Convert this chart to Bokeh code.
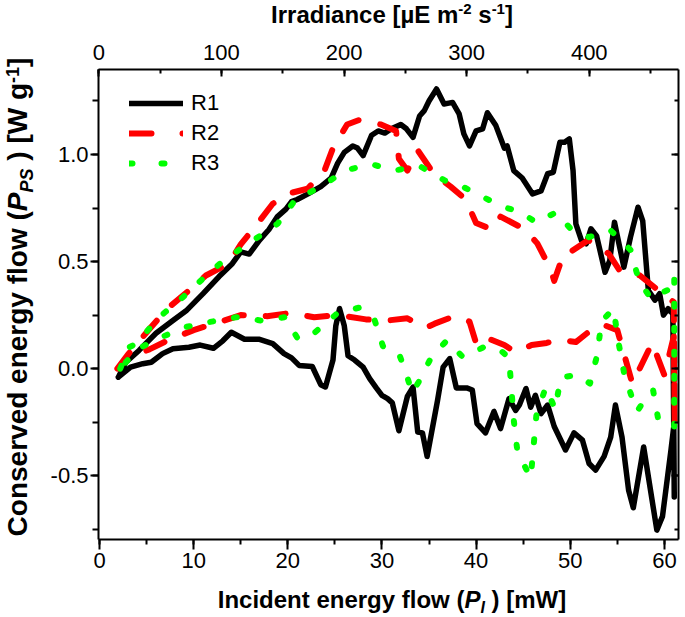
from bokeh.plotting import figure
from bokeh.models import (Range1d, LinearAxis, SingleIntervalTicker, NumeralTickFormatter,
                          CustomJSTickFormatter, Legend, LegendItem, Div)
from bokeh.layouts import row, column
from bokeh.embed import file_html
from bokeh.resources import INLINE

FONT = "Liberation Sans"
NAN = float("nan")

# ---------------- data ----------------
r1_x = [2.0, 2.8, 4.2, 6.0, 7.8, 9.2, 11.0, 12.7, 14.1, 15.0, 15.9, 17.0, 18.0, 18.9, 19.8, 20.4, 21.0,
        22.1, 23.5, 24.6, 25.3, 26.0, 26.9, 27.4, 28.0, 28.9, 29.6, 30.3, 31.0, 32.0, 32.6, 33.3, 34.0,
        34.5, 35.0, 35.8, 36.6, 37.1, 37.5, 38.2, 38.7, 39.3, 40.0, 40.7, 41.2, 42.1, 43.0, 43.3, 44.0,
        44.9, 46.0, 46.9, 47.6, 48.2, 48.9, 49.4, 49.9, 50.3, 50.6, 51.2, 51.7, 52.2, 52.8, 53.7, 54.2,
        54.7, 55.0, 55.7, 56.4, 57.2, 57.7, 58.3, 59.0, 59.5, 59.9, 60.4, 60.9,
        61.05, 61.0, 60.7, 59.8, 59.2, 58.3, 57.8, 56.7, 56.2, 55.5, 54.8, 54.3, 53.6, 52.7, 52.0, 51.3,
        50.4, 49.5, 48.3, 47.6, 46.9, 46.3, 45.8, 45.3, 44.6, 44.2, 43.5, 42.6, 41.9, 41.0, 40.1, 39.6,
        39.0, 37.9, 37.2, 36.5, 35.9, 34.8, 34.3, 33.8, 33.3, 32.7, 31.8, 31.1, 30.6, 30.0, 29.4, 28.7,
        28.0, 27.1, 26.4, 26.0, 25.5, 25.1, 24.8, 24.0, 23.5, 22.6, 21.2, 20.4, 19.6, 18.4, 17.0, 15.4,
        14.0, 13.1, 12.1, 10.7, 9.5, 7.8, 6.7, 5.5, 4.6, 3.3, 2.0]
r1_y = [-0.04, 0.03, 0.085, 0.165, 0.225, 0.27, 0.35, 0.43, 0.49, 0.545, 0.535, 0.60, 0.65, 0.71, 0.745,
        0.78, 0.79, 0.815, 0.85, 0.89, 0.96, 1.01, 1.04, 1.03, 0.995, 1.09, 1.11, 1.10, 1.12, 1.14, 1.12,
        1.08, 1.18, 1.205, 1.25, 1.306, 1.236, 1.24, 1.243, 1.19, 1.096, 1.04, 1.11, 1.12, 1.195, 1.135,
        1.03, 1.04, 0.925, 0.89, 0.816, 0.83, 0.91, 0.917, 1.057, 1.057, 1.073, 0.925, 0.676, 0.598,
        0.583, 0.653, 0.62, 0.45, 0.505, 0.684, 0.62, 0.474, 0.614, 0.754, 0.69, 0.365, 0.32, 0.35, 0.25,
        0.28, 0.256,
        -0.60, -0.27, -0.38, -0.69, -0.754, -0.505, -0.366, -0.65, -0.568, -0.32, -0.17, -0.32, -0.41,
        -0.474, -0.443, -0.334, -0.30, -0.38, -0.27, -0.17, -0.21, -0.125, -0.18, -0.093, -0.17, -0.195,
        -0.14, -0.28, -0.20, -0.30, -0.257, -0.10, -0.09, -0.09, 0.047, 0.007, -0.15, -0.41, -0.30,
        -0.296, -0.086, -0.13, -0.29, -0.16, -0.14, -0.125, -0.09, -0.047, 0.007, 0.04, 0.06, 0.2, 0.28,
        0.2, 0.04, -0.086, -0.075, 0.01, 0.015, 0.05, 0.07, 0.117, 0.137, 0.137, 0.17, 0.13, 0.095, 0.11,
        0.10, 0.093, 0.07, 0.03, 0.023, 0.007, -0.04]

r2_x = [1.9, 3.1, 5.4, 7.2, 9.5, 11.3, 13.7, 15.0, 17.0, 18.4, 20.3, 22.1, 23.9, 24.8, 26.3, 27.5, 29.9,
        31.5, 31.8, 32.7, 33.8, 35.5, 37.3, 38.9, 40.0, 41.7, 42.6, 45.2, 46.5, 47.9, 48.3, 49.3, 50.0,
        51.9, 54.1, 55.3, 57.4, 59.6, 61.0,
        61.1, 61.0, 60.0, 58.7, 56.6, 55.0, 53.5, 52.2, 50.6, 48.8, 47.5, 45.9, 44.2, 43.0, 41.6, 40.1,
        39.3, 37.7, 35.6, 34.6, 32.7, 30.6, 28.3, 25.3, 22.8, 20.3, 17.8, 15.0, 12.9, 10.0, 7.4, 5.3,
        3.0, 1.9]
r2_y = [0.0, 0.07, 0.19, 0.28, 0.365, 0.435, 0.49, 0.58, 0.69, 0.77, 0.82, 0.84, 0.925, 1.03, 1.14,
        1.16, 1.14, 1.11, 0.98, 0.925, 1.02, 0.91, 0.85, 0.79, 0.68, 0.65, 0.71, 0.65, 0.585, 0.466,
        0.41, 0.536, 0.544, 0.60, 0.536, 0.455, 0.435, 0.357, 0.31,
        -0.26, 0.15, -0.03, 0.12, -0.07, 0.18, 0.205, 0.18, 0.124, 0.135, 0.12, 0.11, 0.077, 0.11,
        0.135, 0.105, 0.22, 0.245, 0.21, 0.19, 0.235, 0.225, 0.23, 0.25, 0.24, 0.26, 0.245, 0.25, 0.22,
        0.18, 0.135, 0.09, 0.05, 0.0]

r3_x = [2.2, 3.1, 4.0, 6.2, 8.9, 11.1, 13.4, 15.9, 18.9, 20.8, 23.7, 26.1, 28.8, 31.3, 34.0, 36.7, 38.7,
        40.8, 42.9, 44.6, 46.4, 48.5, 50.1, 52.0, 54.3, 56.4, 57.3, 58.6, 60.0, 61.0, 61.05,
        61.05, 59.4, 58.8, 58.2, 57.1, 56.4, 55.7, 55.1, 54.6, 53.3, 52.9, 52.1, 50.9, 49.0, 48.4, 47.4,
        46.4, 45.8, 44.4, 44.0, 43.5, 42.4, 40.8, 38.6, 36.9, 35.2, 34.0, 33.2, 32.5, 31.8, 30.1, 29.2,
        27.6, 25.3, 22.9, 21.1, 19.7, 17.1, 14.5, 11.6, 8.9, 6.1, 4.0, 2.2]
r3_y = [0.0, 0.098, 0.12, 0.235, 0.335, 0.425, 0.513, 0.586, 0.676, 0.788, 0.855, 0.925, 0.956, 0.925,
        0.946, 0.878, 0.847, 0.80, 0.754, 0.735, 0.682, 0.73, 0.65, 0.614, 0.645, 0.555, 0.41, 0.326,
        0.36, 0.38, 0.43,
        -0.27, -0.25, -0.10, -0.125, -0.2, -0.114, -0.016, 0.13, 0.28, 0.22, 0.07, -0.07, -0.03, -0.04,
        -0.19, -0.086, -0.22, -0.51, -0.39, -0.24, 0.05, 0.093, 0.10, 0.054, 0.132, 0.05, -0.055,
        -0.114, -0.011, 0.07, 0.105, 0.23, 0.285, 0.26, 0.17, 0.137, 0.24, 0.225, 0.24, 0.217, 0.192,
        0.137, 0.09, 0.0]

series_names = ["R1", "R2", "R3"]

# ---------------- layout sizes ----------------
YW = 34          # width of the rotated y-title strip
TH = 30          # height of the top title strip
FW = 680 - YW    # figure width
FH = 551         # figure height
BH = 36          # height of bottom title strip

# ---------------- figure ----------------
p = figure(width=FW, height=FH, output_backend="svg", toolbar_location=None,
           x_range=Range1d(-0.106, 61.5), y_range=Range1d(-0.798, 1.397),
           x_axis_type=None, y_axis_type=None,
           min_border_left=64, min_border_right=2, min_border_top=39, min_border_bottom=42)
p.extra_x_ranges = {"irr": Range1d(-0.3, 472.8)}
p.xgrid.visible = False
p.ygrid.visible = False
p.outline_line_color = None
p.background_fill_color = "white"
p.border_fill_color = "white"


def style(ax, tin, tout, min_in, min_out, standoff):
    ax.axis_line_width = 2
    ax.axis_line_color = "black"
    ax.major_tick_line_width = 2
    ax.minor_tick_line_width = 2
    ax.major_tick_line_color = "black"
    ax.minor_tick_line_color = "black"
    ax.major_tick_in = tin
    ax.major_tick_out = tout
    ax.minor_tick_in = min_in
    ax.minor_tick_out = min_out
    ax.major_label_standoff = standoff
    ax.major_label_text_font = FONT
    ax.major_label_text_font_size = "22px"
    ax.major_label_text_color = "black"


bottom = LinearAxis(ticker=SingleIntervalTicker(interval=10, num_minor_ticks=2))
style(bottom, 0, 10, 0, 5, 3)
p.add_layout(bottom, "below")

left = LinearAxis(ticker=SingleIntervalTicker(interval=0.5, num_minor_ticks=2),
                  formatter=NumeralTickFormatter(format="0.0"))
style(left, 0, 8, 0, 6, 2)
p.add_layout(left, "left")

top = LinearAxis(x_range_name="irr", ticker=SingleIntervalTicker(interval=100, num_minor_ticks=2))
style(top, 7, 0, 4, 0, 10)
p.add_layout(top, "above")

right = LinearAxis(ticker=SingleIntervalTicker(interval=0.5, num_minor_ticks=2),
                   formatter=CustomJSTickFormatter(code="return ''"))
style(right, 7, 0, 4, 0, 0)
p.add_layout(right, "right")

# ---------------- data lines ----------------
p.line(r1_x, r1_y, line_color="black", line_width=5.5, line_join="round", line_cap="round")
p.line(r2_x, r2_y, line_color="#FF0000", line_width=6, line_dash="20 22",
       line_join="round", line_cap="round")
p.line(r3_x, r3_y, line_color="#00FF00", line_width=6, line_dash="3 21",
       line_join="round", line_cap="round")

# legend proxies (a single NaN point: nothing drawn in the frame) with the legend's own dash look
g1 = p.line([NAN], [NAN], line_color="black", line_width=5.5, line_cap="round")
g2 = p.line([NAN], [NAN], line_color="#FF0000", line_width=6, line_dash="22 31", line_cap="round")
g3 = p.line([NAN], [NAN], line_color="#00FF00", line_width=6, line_dash="3 29", line_cap="round")
legend = Legend(items=[LegendItem(label=series_names[0], renderers=[g1]),
                       LegendItem(label=series_names[1], renderers=[g2]),
                       LegendItem(label=series_names[2], renderers=[g3])],
                location=(31, 361), margin=0, padding=0, spacing=0,
                glyph_width=54, glyph_height=30, label_height=30, label_standoff=8,
                border_line_color=None, background_fill_alpha=0,
                label_text_font=FONT, label_text_font_size="22px", label_text_color="black")
p.add_layout(legend)

# ---------------- axis titles (rich text) ----------------
FNT = "font-family:'Liberation Sans'; font-weight:bold; color:black; white-space:nowrap;"
SUP = "font-size:15px; vertical-align:9px; line-height:0;"
SUB = "font-size:16px; vertical-align:-5px; line-height:0; font-style:italic;"
CENTER = f"display:block; box-sizing:border-box; width:{FW}px; padding-left:70px; text-align:center;"

top_html = (f'<div style="{FNT} {CENTER} font-size:24px; line-height:30px;">'
            f'Irradiance [µE m<span style="{SUP}">-2</span> '
            f's<span style="{SUP}">-1</span>]</div>')
bot_html = (f'<div style="{FNT} {CENTER} font-size:24px; line-height:37px;">'
            f'Incident energy flow (<i>P</i><span style="{SUB}">I</span> ) [mW]</div>')
y_html = (f'<div style="{FNT} font-size:28px; display:block; width:600px; height:34px; '
          f'line-height:34px; text-align:center; transform-origin:0 0; '
          f'transform:translate(1px, 597px) rotate(-90deg);">'
          f'Conserved energy flow (<i>P</i><span style="font-size:18px; vertical-align:-6px; '
          f'line-height:0; font-style:italic;">PS</span> ) [W g'
          f'<span style="font-size:18px; vertical-align:8px; line-height:0;">-1</span>]</div>')

tdiv = Div(text=top_html, width=FW, height=TH, margin=0)
bdiv = Div(text=bot_html, width=FW, height=BH, margin=0)
ydiv = Div(text=y_html, width=YW, height=TH + FH + BH, margin=0)

layout = row(ydiv, column(tdiv, p, bdiv, spacing=0), spacing=0)

open("out.html", "w").write(file_html(layout, INLINE))
